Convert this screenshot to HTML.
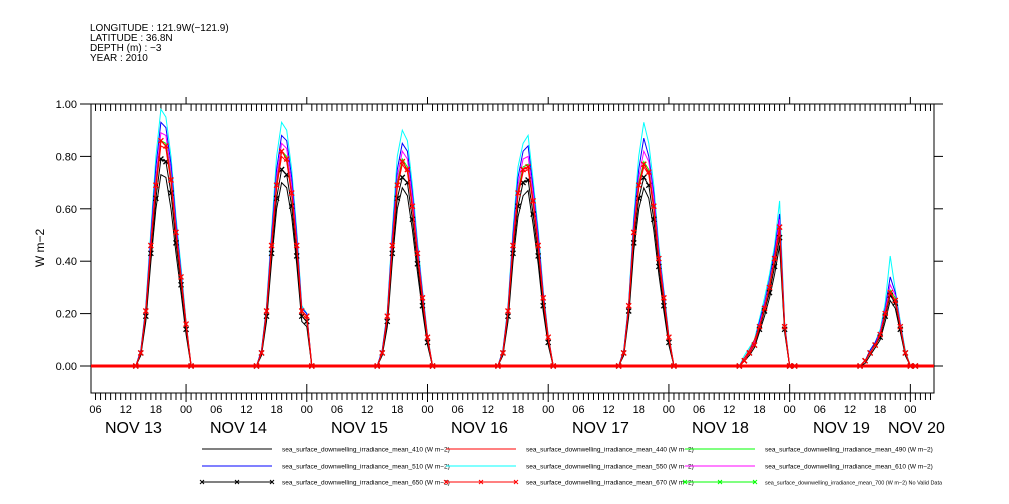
<!DOCTYPE html>
<html><head><meta charset="utf-8"><style>
html,body{margin:0;padding:0;background:#fff;}
svg{display:block;font-family:"Liberation Sans",sans-serif;}
</style></head><body>
<svg id="chart" width="1009" height="504" viewBox="0 0 1009 504" xmlns="http://www.w3.org/2000/svg">
<g font-size="10" fill="#000">
<text x="90" y="31">LONGITUDE : 121.9W(−121.9)</text>
<text x="90" y="41">LATITUDE : 36.8N</text>
<text x="90" y="51">DEPTH (m) : −3</text>
<text x="90" y="61">YEAR : 2010</text>
</g>
<text x="44" y="248" font-size="12" text-anchor="middle" transform="rotate(-90 44 248)">W m−2</text>
<g id="axes"></g>
<g id="series"></g>
<g id="legend"></g>
</svg>
<script>
// ---- data ----
const dayStarts = [0, 24, 48, 72, 96, 120, 144]; // hours from Nov 13 00:00
const hourOffsets = [14,15,16,17,18,19,20,21,22,23,24,25];
const yTicks = [0, 0.2, 0.4, 0.6, 0.8, 1.0];
const yTickLabels = ["0.00","0.20","0.40","0.60","0.80","1.00"];
const hourLabels = ["06","12","18","00"];
const dayLabels = ["NOV 13","NOV 14","NOV 15","NOV 16","NOV 17","NOV 18","NOV 19","NOV 20"];
const dayLabelX = [105,210,331,451,572,692,813,888];

const cyan550 = [0,.06,.23,.52,.8,.98,.95,.8,.57,.38,.17,0, 0,.06,.23,.52,.8,.93,.9,.75,.52,.23,.2,0, 0,.06,.21,.52,.8,.9,.86,.69,.48,.29,.12,0, 0,.06,.23,.52,.76,.85,.88,.71,.52,.29,.12,0, 0,.06,.25,.57,.8,.93,.85,.69,.46,.29,.12,0, 0,.04,.07,.1,.18,.26,.35,.46,.63,.17,0,0, 0,.02,.06,.09,.14,.24,.42,.29,.17,.06,0,0];
const blue510 = [0,.06,.22,.5,.76,.93,.91,.77,.55,.36,.16,0, 0,.06,.22,.5,.75,.88,.86,.72,.5,.22,.2,0, 0,.06,.2,.5,.75,.85,.82,.66,.46,.28,.11,0, 0,.06,.22,.5,.72,.82,.84,.68,.5,.28,.11,0, 0,.06,.24,.55,.75,.87,.8,.66,.44,.28,.11,0, 0,.03,.06,.09,.17,.24,.33,.44,.58,.16,0,0, 0,.02,.06,.09,.13,.22,.34,.28,.16,.05,0,0];
const magenta610 = [0,.05,.21,.48,.72,.89,.88,.74,.53,.35,.16,0, 0,.05,.21,.48,.72,.85,.83,.69,.48,.21,.19,0, 0,.05,.19,.48,.72,.82,.79,.64,.45,.27,.11,0, 0,.05,.21,.48,.69,.79,.8,.66,.48,.27,.11,0, 0,.05,.23,.53,.72,.82,.78,.64,.43,.27,.11,0, 0,.03,.05,.09,.16,.23,.32,.42,.56,.16,0,0, 0,.02,.05,.08,.13,.21,.31,.27,.16,.05,0,0];
const green490 = [0,.05,.2,.46,.7,.86,.85,.72,.51,.34,.15,0, 0,.05,.2,.46,.7,.82,.8,.66,.46,.2,.18,0, 0,.05,.18,.46,.7,.79,.76,.61,.43,.26,.1,0, 0,.05,.2,.46,.67,.76,.77,.63,.46,.26,.1,0, 0,.05,.22,.51,.7,.78,.75,.61,.41,.26,.1,0, 0,.02,.05,.08,.15,.22,.31,.41,.53,.15,0,0, 0,.02,.05,.08,.12,.2,.29,.26,.15,.05,0,0];
const black410 = [0,.04,.17,.4,.6,.73,.72,.6,.43,.28,.12,0, 0,.04,.17,.4,.6,.7,.68,.57,.39,.17,.15,0, 0,.04,.15,.4,.6,.68,.65,.52,.36,.21,.08,0, 0,.04,.17,.4,.57,.65,.67,.54,.39,.21,.08,0, 0,.04,.19,.44,.6,.68,.64,.52,.35,.21,.08,0, 0,.02,.04,.07,.13,.19,.26,.35,.46,.13,0,0, 0,.01,.04,.07,.1,.17,.25,.22,.13,.04,0,0];
const black650 = [0,.05,.19,.43,.64,.79,.78,.66,.47,.31,.14,0, 0,.05,.19,.43,.64,.75,.73,.61,.42,.19,.17,0, 0,.05,.17,.43,.64,.72,.7,.56,.39,.23,.09,0, 0,.05,.19,.43,.61,.7,.71,.58,.42,.23,.09,0, 0,.05,.21,.47,.64,.72,.69,.56,.38,.23,.09,0, 0,.02,.05,.08,.14,.21,.28,.38,.49,.14,0,0, 0,.02,.05,.08,.11,.19,.27,.24,.14,.05,0,0];
const red440 = [0,.05,.2,.45,.68,.84,.83,.7,.5,.33,.15,0, 0,.05,.2,.45,.68,.8,.78,.65,.45,.2,.18,0, 0,.05,.18,.45,.68,.77,.74,.6,.42,.25,.1,0, 0,.05,.2,.45,.65,.74,.75,.62,.45,.25,.1,0, 0,.05,.22,.5,.68,.76,.73,.6,.4,.25,.1,0, 0,.03,.06,.1,.15,.22,.3,.4,.52,.15,0,0, 0,.02,.05,.08,.12,.2,.28,.25,.15,.05,0,0];
const red670 = [0,.05,.21,.46,.69,.86,.84,.71,.51,.34,.16,0, 0,.05,.21,.46,.69,.82,.79,.66,.46,.21,.19,0, 0,.05,.19,.46,.69,.78,.75,.61,.43,.26,.11,0, 0,.05,.21,.46,.66,.75,.76,.63,.46,.26,.11,0, 0,.05,.23,.51,.69,.77,.74,.61,.41,.26,.11,0, 0,.02,.05,.08,.15,.22,.3,.41,.53,.15,0,0, 0,.02,.05,.08,.12,.2,.28,.25,.15,.05,0,0];

// ---- axes ----
const L=91, R=934, T=104, B=393;
const hMin=5.1, hMax=172.7;
const xS = h => L + (h-hMin)/(hMax-hMin)*(R-L);
const yS = v => 366 - v*262;
const NS="http://www.w3.org/2000/svg";
function mk(tag, attrs, parent){const e=document.createElementNS(NS,tag);for(const k in attrs)e.setAttribute(k,attrs[k]);parent.appendChild(e);return e;}
const axes=document.getElementById('axes');
const frame=mk('rect',{x:L,y:T,width:R-L,height:B-T,fill:'none',stroke:'#000','stroke-width':1},axes);


yTicks.forEach((v,i)=>{
  const y=yS(v);
  const t=mk('line',{x1:L-11,x2:L,y1:y,y2:y,stroke:'#000'},axes);
  
  
  const t2=mk('line',{x1:R,x2:R+9,y1:y,y2:y,stroke:'#000'},axes);
  
  
  const lb=mk('text',{x:L-14,y:y+4,'font-size':11,'text-anchor':'end'},axes);
  lb.textContent=yTickLabels[i];
  
  
});
for(let h=Math.ceil(hMin);h<=hMax;h++){
  const x=xS(h);
  const major=(h%24===0);
  const tb=mk('line',{x1:x,x2:x,y1:major?B-9:B,y2:major?B+9:B+7,stroke:'#000'},axes);
  
  
  const tt=mk('line',{x1:x,x2:x,y1:major?T-7:T,y2:T+(major?0:7),stroke:'#000'},axes);
  
  
  if(h%6===0){
    const lb=mk('text',{x:x,y:413,'font-size':11,'text-anchor':'middle'},axes);
    lb.textContent=hourLabels[(h/6+3)%4];
    
    
  }
}
dayLabels.forEach((d,i)=>{
  const lb=mk('text',{x:dayLabelX[i],y:433,'font-size':16},axes);
  lb.textContent=d;
  
  
});

// ---- series ----
const times=[];
dayStarts.forEach(d=>hourOffsets.forEach(o=>times.push(d+o)));
const sg=document.getElementById('series');
const base=mk('line',{x1:xS(hMin),x2:xS(hMax),y1:yS(0),y2:yS(0),stroke:'#ff0000','stroke-width':3},sg);


function drawSeries(vals,color,name,marker,width){
  let pts=[[xS(hMin),yS(0)]];
  vals.forEach((v,i)=>pts.push([xS(times[i]),yS(v)]));
  pts.push([xS(hMax),yS(0)]);
  const p=mk('polyline',{points:pts.map(p=>p[0].toFixed(1)+','+p[1].toFixed(1)).join(' '),fill:'none',stroke:color,'stroke-width':width||1},sg);
  
  
  if(marker){
    vals.forEach((v,i)=>{
      const x=xS(times[i]),y=yS(v);
      const m=mk('path',{d:`M${x-2.5},${y-2.5}L${x+2.5},${y+2.5}M${x-2.5},${y+2.5}L${x+2.5},${y-2.5}`,stroke:color,'stroke-width':1.3},sg);
      
      
    });
  }
}
drawSeries(cyan550,'#00ffff','series-550');
drawSeries(blue510,'#0000ff','series-510');
drawSeries(magenta610,'#ff00ff','series-610');
drawSeries(green490,'#00ff00','series-490');
drawSeries(black410,'#000000','series-410');
drawSeries(black650,'#000000','series-650',true);
drawSeries(red440,'#ff0000','series-440');
drawSeries(red670,'#ff0000','series-670',true,1.2);

// ---- legend ----
const lg=document.getElementById('legend');
const legendLabels=["sea_surface_downwelling_irradiance_mean_410 (W m−2)","sea_surface_downwelling_irradiance_mean_440 (W m−2)","sea_surface_downwelling_irradiance_mean_490 (W m−2)","sea_surface_downwelling_irradiance_mean_510 (W m−2)","sea_surface_downwelling_irradiance_mean_550 (W m−2)","sea_surface_downwelling_irradiance_mean_610 (W m−2)","sea_surface_downwelling_irradiance_mean_650 (W m−2)","sea_surface_downwelling_irradiance_mean_670 (W m−2)","sea_surface_downwelling_irradiance_mean_700 (W m−2) No Valid Data"];
const legendColors=['#000','#f00','#0f0','#00f','#0ff','#f0f','#000','#f00','#0f0'];
const colX=[202,446,685], rowY=[449,466,482];
legendLabels.forEach((lab,i)=>{
  const c=i%3,r=Math.floor(i/3);
  const x=colX[c],y=rowY[r];
  const g=mk('g',{},lg);
  
  
  mk('line',{x1:x,x2:x+70,y1:y,y2:y,stroke:legendColors[i],'stroke-width':1},g);
  if(r===2){[0,35,70].forEach(dx=>mk('path',{d:`M${x+dx-2},${y-2}L${x+dx+2},${y+2}M${x+dx-2},${y+2}L${x+dx+2},${y-2}`,stroke:legendColors[i]},g));}
  const t=mk('text',{x:x+80,y:y+2.5,'font-size':i===8?5.5:6.5},g);
  t.textContent=lab;
});
</script>
</body></html>
